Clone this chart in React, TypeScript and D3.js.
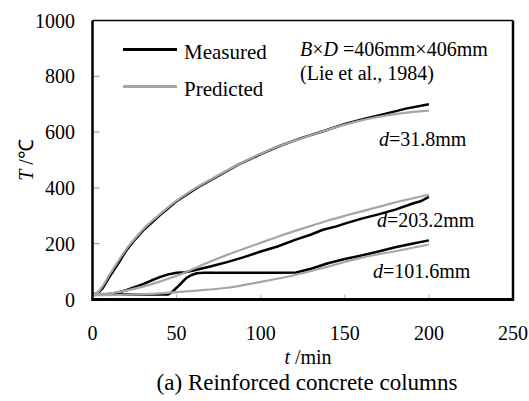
import React from "react";
import * as d3 from "d3";

// Time axis ticks (min) and temperature ticks (°C)
const xTicks = [0, 50, 100, 150, 200, 250];
const yTicks = [0, 200, 400, 600, 800, 1000];

// d = 31.8 mm
const t318Measured = [0, 3, 6, 10, 15, 20, 25, 30, 40, 50, 62, 75, 87, 100, 112, 125, 137, 150, 162, 175, 187, 200];
const T318Measured = [20, 22, 40, 80, 126, 175, 213, 247, 302, 352, 400, 444, 484, 521, 552, 580, 603, 629, 648, 667, 685, 700];
const t318Predicted = [0, 3, 6, 10, 15, 20, 25, 30, 40, 50, 62, 75, 87, 100, 112, 125, 137, 150, 162, 175, 187, 200];
const T318Predicted = [20, 26, 48, 88, 135, 180, 217, 251, 305, 354, 402, 446, 485, 522, 552, 579, 603, 627, 645, 660, 670, 677];

// d = 203.2 mm
const t2032Measured = [0, 10, 15, 20, 25, 30, 35, 40, 45, 50, 55, 60, 70, 80, 90, 100, 110, 120, 130, 137, 145, 150, 160, 170, 180, 190, 195, 200];
const T2032Measured = [18, 20, 25, 33, 44, 55, 68, 80, 90, 96, 98, 104, 118, 134, 152, 172, 190, 213, 233, 250, 262, 272, 290, 305, 322, 343, 352, 368];
const t2032Predicted = [0, 10, 15, 20, 30, 40, 50, 60, 70, 80, 90, 100, 110, 120, 130, 140, 150, 160, 170, 180, 190, 200];
const T2032Predicted = [20, 22, 26, 32, 46, 64, 85, 110, 136, 160, 182, 203, 225, 245, 264, 283, 300, 316, 332, 348, 362, 376];

// d = 101.6 mm
const t1016Measured = [0, 10, 20, 30, 40, 45, 47, 50, 53, 56, 59, 62, 66, 80, 100, 110, 121, 130, 140, 150, 160, 170, 180, 190, 200];
const T1016Measured = [18, 18, 18, 18, 18, 18, 25, 42, 60, 78, 88, 94, 96, 96, 96, 96, 97, 110, 130, 145, 158, 172, 187, 200, 212];
const t1016Predicted = [0, 20, 40, 60, 80, 100, 120, 140, 160, 180, 200];
const T1016Predicted = [15, 17, 22, 31, 42, 63, 87, 118, 150, 173, 197];

const seriesNames = ["Measured", "Predicted"];
const seriesColors = ["#000000", "#a6a6a6"];

const W = 529;
const H = 401;
const left = 92.5;
const right = 513;
const top = 20.5;
const bottom = 299.5;

const serif = "Liberation Serif";
const textStyle = { fontFamily: serif } as React.CSSProperties;

export default function App() {
  const x = d3.scaleLinear().domain([0, 250]).range([left, right]);
  const y = d3.scaleLinear().domain([0, 1000]).range([bottom, top]);

  const line = d3
    .line<[number, number]>()
    .x((d) => x(d[0]))
    .y((d) => y(d[1]));
  const smooth = d3
    .line<[number, number]>()
    .x((d) => x(d[0]))
    .y((d) => y(d[1]))
    .curve(d3.curveMonotoneX);

  const zip = (ts: number[], vs: number[]) => ts.map((t, i) => [t, vs[i]] as [number, number]);

  const predicted = [
    zip(t318Predicted, T318Predicted),
    zip(t2032Predicted, T2032Predicted),
    zip(t1016Predicted, T1016Predicted),
  ];
  const measured = [
    zip(t318Measured, T318Measured),
    zip(t2032Measured, T2032Measured),
    zip(t1016Measured, T1016Measured),
  ];

  return (
    <svg
      width={W}
      height={H}
      style={{ position: "absolute", left: 0, top: 0, background: "#fff", fontFamily: serif }}
    >
      <rect x={0} y={0} width={W} height={H} fill="#fff" />

      {/* inward tick marks */}
      {yTicks.slice(1, -1).map((v) => (
        <line key={"yt" + v} x1={left} x2={left + 7} y1={y(v)} y2={y(v)} stroke="#8a8a8a" strokeWidth={1} />
      ))}
      {xTicks.slice(1, -1).map((v) => (
        <line key={"xt" + v} x1={x(v)} x2={x(v)} y1={bottom} y2={bottom - 5} stroke="#b0b0b0" strokeWidth={1} />
      ))}

      {/* curves: measured underneath, predicted on top */}
      {measured.map((d, i) => (
        <path key={"m" + i} d={line(d) || ""} fill="none" stroke={seriesColors[0]} strokeWidth={2.5} strokeLinejoin="round" />
      ))}
      {predicted.map((d, i) => (
        <path key={"p" + i} d={smooth(d) || ""} fill="none" stroke={seriesColors[1]} strokeWidth={2.2} strokeLinejoin="round" />
      ))}

      {/* frame */}
      <line x1={left} x2={right} y1={top} y2={top} stroke="#000" strokeWidth={1.5} />
      <line x1={right} x2={right} y1={top} y2={bottom + 1} stroke="#000" strokeWidth={2.5} />
      <line x1={left} x2={left} y1={top} y2={bottom + 1} stroke="#000" strokeWidth={2.5} />
      <line x1={left - 1} x2={right + 1} y1={bottom} y2={bottom} stroke="#000" strokeWidth={3} />

      {/* tick labels */}
      {yTicks.map((v) => (
        <text key={"yl" + v} x={75} y={y(v)} dy="0.35em" textAnchor="end" fontSize={20} style={textStyle}>
          {v}
        </text>
      ))}
      {xTicks.map((v) => (
        <text key={"xl" + v} x={x(v)} y={340} textAnchor="middle" fontSize={20} style={textStyle}>
          {v}
        </text>
      ))}

      {/* axis titles */}
      <text transform="translate(33,160) rotate(-90)" textAnchor="middle" fontSize={20} style={textStyle}>
        <tspan fontStyle="italic">T</tspan>
        <tspan> /℃</tspan>
      </text>
      <text x={308} y={364} textAnchor="middle" fontSize={20} style={textStyle}>
        <tspan fontStyle="italic">t</tspan>
        <tspan> /min</tspan>
      </text>
      <text x={307} y={390} textAnchor="middle" fontSize={23} style={textStyle}>
        (a) Reinforced concrete columns
      </text>

      {/* legend */}
      {seriesNames.map((name, i) => (
        <g key={name}>
          <line x1={123} x2={177} y1={49.5 + i * 37} y2={49.5 + i * 37} stroke={seriesColors[i]} strokeWidth={3} />
          <text x={184} y={59 + i * 37} fontSize={21} style={textStyle}>
            {name}
          </text>
        </g>
      ))}

      {/* annotations */}
      <text x={300} y={56} fontSize={20} style={textStyle}>
        <tspan fontStyle="italic">B</tspan>
        <tspan>×</tspan>
        <tspan fontStyle="italic">D</tspan>
        <tspan> =406mm×406mm</tspan>
      </text>
      <text x={300} y={80} fontSize={20} style={textStyle}>
        (Lie et al., 1984)
      </text>
      <text x={379} y={146} fontSize={20} style={textStyle}>
        <tspan fontStyle="italic">d</tspan>
        <tspan>=31.8mm</tspan>
      </text>
      <text x={377} y={227} fontSize={20} style={textStyle}>
        <tspan fontStyle="italic">d</tspan>
        <tspan>=203.2mm</tspan>
      </text>
      <text x={373} y={278} fontSize={20} style={textStyle}>
        <tspan fontStyle="italic">d</tspan>
        <tspan>=101.6mm</tspan>
      </text>
    </svg>
  );
}
